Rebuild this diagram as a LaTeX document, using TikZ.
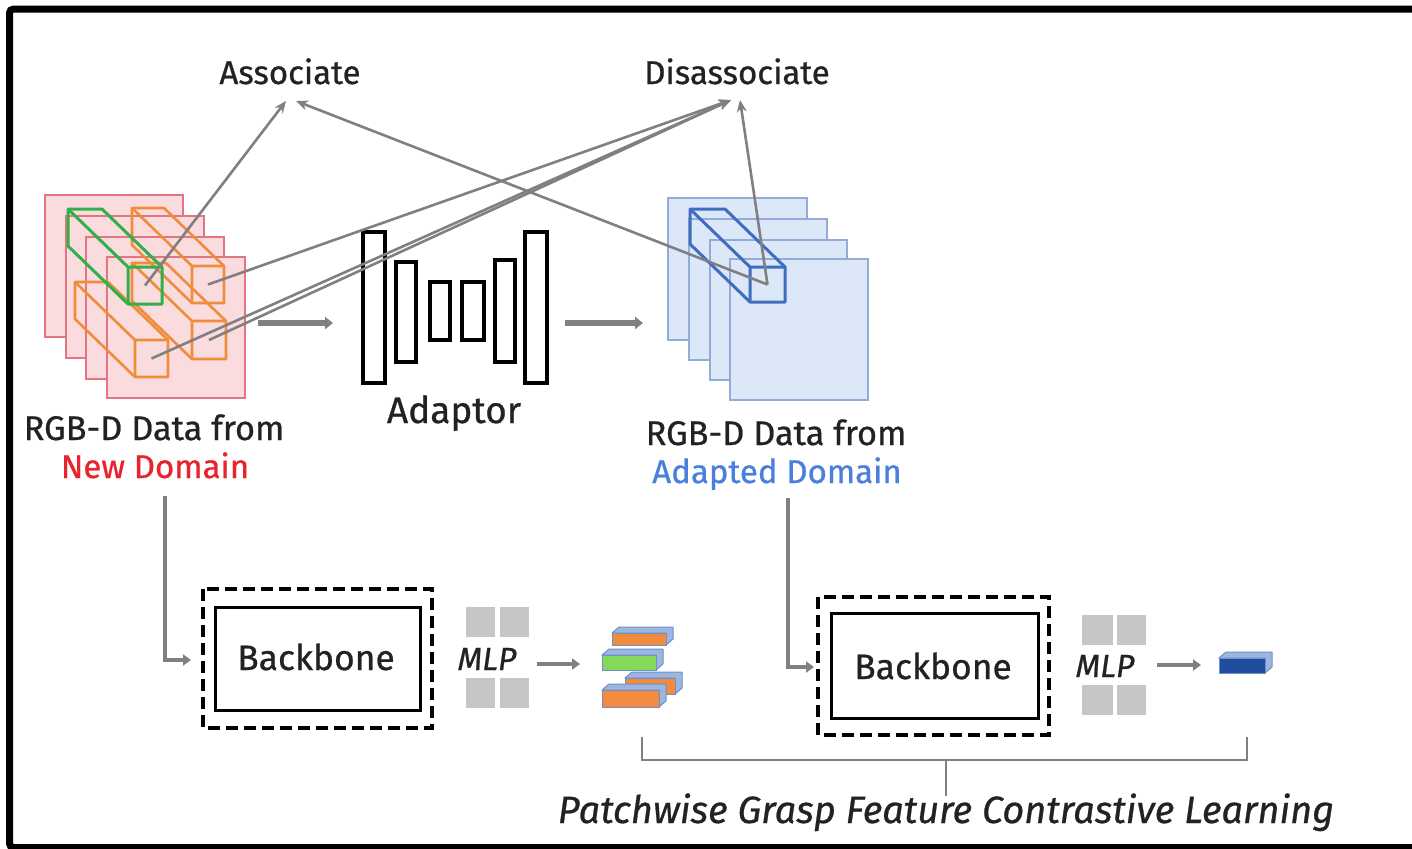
\documentclass[tikz,border=0pt]{standalone}
\usepackage{fontspec}
\setmainfont{Fira Sans}[FakeBold=0.7]
\usetikzlibrary{arrows.meta}

\definecolor{linkgray}{HTML}{808080}
\definecolor{pinkfill}{HTML}{FADCDF}
\definecolor{pinkedge}{HTML}{E27580}
\definecolor{orng}{HTML}{F08C3A}
\definecolor{grn}{HTML}{2FB04A}
\definecolor{bluefill}{HTML}{DCE7F8}
\definecolor{blueedge}{HTML}{93ABD8}
\definecolor{bluecube}{HTML}{3F6DBF}
\definecolor{redtext}{HTML}{E8232E}
\definecolor{bluetext}{HTML}{4A80DC}
\definecolor{mlpgray}{HTML}{C6C6C6}
\definecolor{inkdark}{HTML}{222222}
\definecolor{baredge}{HTML}{6E8FC8}
\definecolor{barorange}{HTML}{F28B3E}
\definecolor{bargreen}{HTML}{84D85A}
\definecolor{barblue}{HTML}{1F4E9E}
\definecolor{bartop}{HTML}{9DB6E0}

% front face top-left (x,y), size w x h, extruded back by (-60,-58)
\newcommand{\patchbox}[6]{%
  \draw[#6] (#2-60,#3-58) -- (#2+#4-60,#3-58) -- (#2+#4,#3) -- (#2+#4,#3+#5)
        -- (#2,#3+#5) -- (#2-60,#3+#5-58) -- cycle;
  \draw[#6] (#2-60,#3-58) -- (#2,#3) -- (#2+#4,#3) (#2,#3) -- (#2,#3+#5);
  \coordinate (#1) at (#2+#4/2,#3+#5/2);
}
% one feature slab: front face (x,y) w x h, face colour
\newcommand{\featbar}[5]{%
  \filldraw[fill=bartop, draw=baredge, line width=0.5pt, line join=round]
    (#1,#2) -- ++(7,-6) -- ++(#3,0) -- ++(0,#4) -- ++(-7,6) -- ++(0,-#4) -- cycle;
  \filldraw[fill=#5, draw=baredge, line width=0.5pt] (#1,#2) rectangle ++(#3,#4);
}

\tikzset{
  slabred/.style={fill=pinkfill, draw=pinkedge, line width=0.8pt},
  slabblue/.style={fill=bluefill, draw=blueedge, line width=0.8pt},
  cubeorange/.style={draw=orng, line width=1.3pt, line join=round},
  cubegreen/.style={draw=grn, line width=1.5pt, line join=round},
  cubeblue/.style={draw=bluecube, line width=1.5pt, line join=round},
  thinlink/.style={draw=linkgray, line width=1.3pt, -{Stealth[length=6pt,width=5pt]}},
  flowarrow/.style={draw=linkgray, line width=3pt, -{Triangle[length=4pt,width=6pt]}},
  smallarrow/.style={draw=linkgray, line width=2pt, -{Triangle[length=4pt,width=5.5pt]}},
  feedlink/.style={draw=linkgray, line width=2.2pt, -{Triangle[length=4pt,width=5.5pt]}},
  bracketline/.style={draw=linkgray, line width=1.4pt},
  adbar/.style={draw=black, line width=2pt, fill=white},
  dashbox/.style={draw=black, line width=2pt, dash pattern=on 6pt off 3pt},
  solidbox/.style={draw=black, line width=1.5pt},
  mlpcell/.style={fill=mlpgray},
  lbl/.style={text=inkdark, font=\fontsize{16.5}{18}\selectfont, inner sep=0pt, anchor=base},
  srclbl/.style={text=inkdark, font=\fontsize{17.1}{19}\selectfont, inner sep=0pt, anchor=base},
  adlbl/.style={text=inkdark, font=\fontsize{18.5}{20}\selectfont, inner sep=0pt, anchor=base},
  toplbl/.style={text=inkdark, font=\fontsize{16.5}{18}\selectfont, inner sep=0pt, anchor=base},
  bblbl/.style={text=inkdark, font=\fontsize{17.7}{20}\selectfont, inner sep=0pt, anchor=base},
  mlplbl/.style={text=inkdark, font=\fontsize{16}{18}\selectfont\itshape, inner sep=0pt, anchor=base},
  longlbl/.style={text=inkdark, font=\fontsize{19}{21}\selectfont\itshape, inner sep=0pt, anchor=base},
}

\begin{document}
\begin{tikzpicture}[x=0.5pt, y=-0.5pt]
\useasboundingbox (0,0) rectangle (1412,848);
\clip (0,0) rectangle (1412,848);
\fill[white] (0,0) rectangle (1412,848);

% outer frame
\draw[line width=3.5pt, rounded corners=2pt] (9.5,9) rectangle (1440,847.5);

% titles
\node[toplbl] (assoc) at (290,84) {Associate};
\node[toplbl] (disassoc) at (737,84) {Disassociate};
\coordinate (assocA) at (286,101);
\coordinate (assocB) at (296,101);
\coordinate (disA) at (731,100);
\coordinate (disB) at (740,100);

% input stack, new domain
\draw[slabred] (45,195) rectangle ++(138,142);
\draw[slabred] (66,216) rectangle ++(138,142);
\draw[slabred] (86,237) rectangle ++(138,142);
\draw[slabred] (107,257) rectangle ++(138,141);
\patchbox{pBR}{192}{321}{34}{38}{cubeorange}
\patchbox{pBL}{135}{340}{33}{37}{cubeorange}
\patchbox{pTR}{192}{266}{32}{37}{cubeorange}
\patchbox{pTL}{128}{267}{34}{37}{cubegreen}

% adapted stack
\draw[slabblue] (668,198) rectangle ++(139,142);
\draw[slabblue] (689,219) rectangle ++(138,141);
\draw[slabblue] (710,240) rectangle ++(137,140);
\draw[slabblue] (730,259) rectangle ++(138,141);
\patchbox{pB}{750}{267}{35}{35}{cubeblue}

% adaptor
\draw[adbar] (363,232) rectangle (385,383);
\draw[adbar] (396,262) rectangle (416,362);
\draw[adbar] (430,282) rectangle (450,340);
\draw[adbar] (462,282) rectangle (484,340);
\draw[adbar] (495,260) rectangle (515,362);
\draw[adbar] (525,232) rectangle (547,383);
\node[adlbl] (adaptor) at (454,423) {Adaptor};

% stack-to-stack flow
\coordinate (flowA1) at (258,323);
\coordinate (flowA2) at (333,323);
\coordinate (flowB1) at (565,323);
\coordinate (flowB2) at (643,323);
\draw[flowarrow] (flowA1) -- (flowA2);
\draw[flowarrow] (flowB1) -- (flowB2);

% association links
\draw[thinlink] (pTL) -- (assocA);
\draw[thinlink] (pB) -- (assocB);
\draw[thinlink] (pTR) -- (disA);
\draw[thinlink] (pBR) -- (disA);
\draw[thinlink] (pBL) -- (disA);
\draw[thinlink] (pB) -- (disB);

% domain labels
\node[srclbl] (newA) at (154,440) {RGB-D Data from};
\node[lbl, text=redtext] (newB) at (155,478) {New Domain};
\node[srclbl] (adA) at (776,445) {RGB-D Data from};
\node[lbl, text=bluetext] (adB) at (777,483) {Adapted Domain};

% left branch
\draw[dashbox] (203,589) rectangle (432,728);
\draw[solidbox] (215,607) rectangle (420,710);
\node[bblbl] (bbL) at (316,670) {Backbone};
\coordinate (inL) at (191,660);
\draw[feedlink] (165,496) |- (inL);
\fill[mlpcell] (466,607) rectangle (495,637);
\fill[mlpcell] (500,607) rectangle (529,637);
\fill[mlpcell] (466,678) rectangle (495,708);
\fill[mlpcell] (500,678) rectangle (529,708);
\node[mlplbl] (mlpL) at (487,670) {MLP};
\coordinate (aL1) at (537,664);
\coordinate (aL2) at (580,664);
\draw[smallarrow] (aL1) -- (aL2);
\featbar{612}{633}{54}{12}{barorange}
\featbar{602}{655}{54}{15}{bargreen}
\featbar{625}{678}{50}{16}{barorange}
\featbar{602}{690}{57}{17}{barorange}

% right branch
\draw[dashbox] (818,597) rectangle (1049,735);
\draw[solidbox] (831,613) rectangle (1038,718);
\node[bblbl] (bbR) at (933,679) {Backbone};
\coordinate (inR) at (814,667);
\draw[feedlink] (788,498) |- (inR);
\fill[mlpcell] (1082,615) rectangle (1113,645);
\fill[mlpcell] (1117,615) rectangle (1146,645);
\fill[mlpcell] (1082,685) rectangle (1113,715);
\fill[mlpcell] (1117,685) rectangle (1146,715);
\node[mlplbl] (mlpR) at (1105,677) {MLP};
\coordinate (aR1) at (1157,665);
\coordinate (aR2) at (1201,665);
\draw[smallarrow] (aR1) -- (aR2);
\featbar{1219}{658}{46}{15}{barblue}

% contrastive bracket
\coordinate (brL) at (642,737);
\coordinate (brR) at (1247,737);
\coordinate (brM) at (946,760);
\draw[bracketline] (brL) |- (brM) -| (brR);
\node[longlbl] (pgfcl) at (946,823) {Patchwise Grasp Feature Contrastive Learning};
\draw[bracketline] (brM) -- (946,796);
\end{tikzpicture}
\end{document}
